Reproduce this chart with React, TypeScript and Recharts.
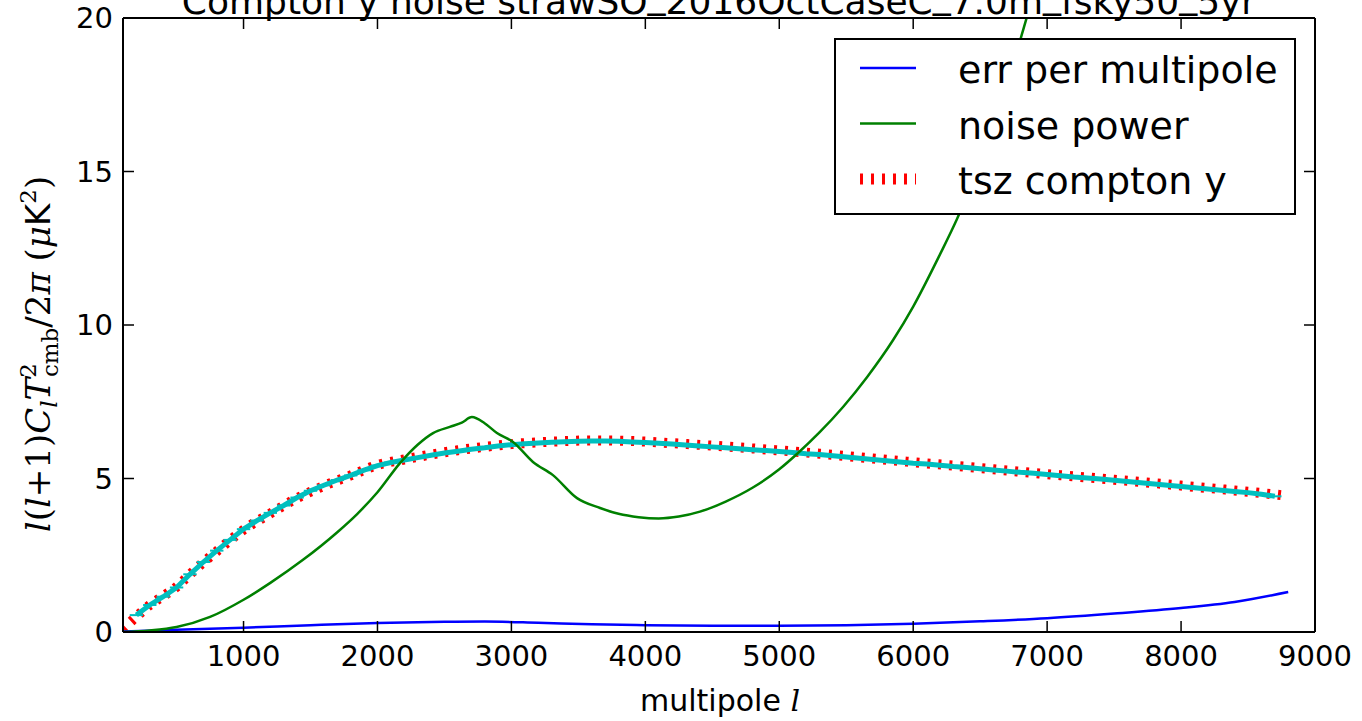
import { ComposedChart, Line, Scatter, ErrorBar, XAxis, YAxis, Legend } from 'recharts'

// err per multipole (blue)
const errL = [100, 500, 1000, 1500, 2000, 2500, 2800, 3200, 3600, 4000, 4500, 5000, 5500, 6000, 6500, 7000, 7500, 8000, 8400, 8800]
const errV = [0.02, 0.07, 0.14, 0.22, 0.29, 0.33, 0.34, 0.3, 0.25, 0.22, 0.2, 0.2, 0.22, 0.27, 0.35, 0.45, 0.6, 0.78, 0.98, 1.3]

// noise power (green)
const noiseL = [100, 300, 500, 750, 1000, 1200, 1444, 1700, 1850, 2000, 2168, 2300, 2415, 2540, 2630, 2705, 2800, 2892, 3012, 3161, 3310, 3490, 3662, 3800, 3950, 4100, 4250, 4408, 4600, 4800, 5000, 5140, 5300, 5476, 5655, 5850, 6000, 6200, 6327, 6500, 6700, 6820, 6900]
const noiseV = [0.0, 0.05, 0.16, 0.49, 1.05, 1.6, 2.35, 3.25, 3.85, 4.55, 5.5, 6.1, 6.48, 6.68, 6.82, 7.0, 6.8, 6.48, 6.19, 5.54, 5.11, 4.36, 4.04, 3.85, 3.74, 3.7, 3.76, 3.92, 4.25, 4.7, 5.3, 5.83, 6.5, 7.33, 8.3, 9.51, 10.6, 12.3, 13.45, 15.3, 17.8, 19.6, 20.8]

// tsz compton y (red dotted)
const tszL = [100, 200, 300, 400, 500, 600, 700, 800, 1000, 1200, 1400, 1600, 1800, 2000, 2200, 2400, 2600, 2800, 3000, 3300, 3600, 3900, 4200, 4500, 4800, 5100, 5400, 5700, 6000, 6300, 6600, 6900, 7200, 7500, 7800, 8100, 8400, 8700, 8800]
const tszV = [0.1, 0.5, 0.88, 1.17, 1.47, 1.88, 2.27, 2.63, 3.33, 3.86, 4.36, 4.76, 5.1, 5.44, 5.62, 5.78, 5.92, 6.03, 6.12, 6.2, 6.24, 6.22, 6.15, 6.07, 5.98, 5.88, 5.77, 5.65, 5.53, 5.42, 5.3, 5.18, 5.07, 4.96, 4.85, 4.73, 4.61, 4.48, 4.43]

// binned measurement (cyan, x error bars)
const binL = [200, 300, 400, 500, 600, 700, 800, 900, 1000, 1100, 1200, 1300, 1400, 1500, 1600, 1700, 1800, 1900, 2000, 2100, 2200, 2300, 2400, 2500, 2600, 2700, 2800, 2900, 3000, 3100, 3200, 3300, 3400, 3500, 3600, 3700, 3800, 3900, 4000, 4100, 4200, 4300, 4400, 4500, 4600, 4700, 4800, 4900, 5000, 5100, 5200, 5300, 5400, 5500, 5600, 5700, 5800, 5900, 6000, 6100, 6200, 6300, 6400, 6500, 6600, 6700, 6800, 6900, 7000, 7100, 7200, 7300, 7400, 7500, 7600, 7700, 7800, 7900, 8000, 8100, 8200, 8300, 8400, 8500, 8600, 8700]
const binV = [0.55, 0.88, 1.15, 1.45, 1.88, 2.28, 2.65, 3.0, 3.35, 3.63, 3.88, 4.12, 4.38, 4.6, 4.78, 4.95, 5.1, 5.27, 5.42, 5.52, 5.6, 5.68, 5.76, 5.83, 5.89, 5.95, 6.0, 6.06, 6.1, 6.13, 6.16, 6.18, 6.2, 6.21, 6.22, 6.22, 6.21, 6.19, 6.17, 6.15, 6.12, 6.09, 6.06, 6.03, 6.0, 5.97, 5.94, 5.91, 5.88, 5.85, 5.81, 5.78, 5.74, 5.7, 5.66, 5.62, 5.58, 5.54, 5.5, 5.47, 5.43, 5.39, 5.36, 5.32, 5.28, 5.24, 5.2, 5.17, 5.13, 5.09, 5.05, 5.02, 4.98, 4.94, 4.9, 4.86, 4.82, 4.78, 4.74, 4.7, 4.66, 4.62, 4.58, 4.54, 4.49, 4.42]
const binHalfWidth = 50

const xTicks = [1000, 2000, 3000, 4000, 5000, 6000, 7000, 8000, 9000]
const yTicks = [0, 5, 10, 15, 20]
const title = 'Compton y noise strawSO_2016OctCaseC_7.0m_fsky50_5yr'

const errData = errL.map((l, i) => ({ l, v: errV[i] }))
const noiseData = noiseL.map((l, i) => ({ l, v: noiseV[i] }))
const tszData = tszL.map((l, i) => ({ l, v: tszV[i] }))
const binData = binL.map((l, i) => ({ l, v: binV[i], xerr: binHalfWidth }))

const SANS = 'DejaVu Sans'
const SERIF = 'DejaVu Serif'
const TICK = 11

const BottomTick = ({ x, y, payload }: any) => (
  <g>
    <line x1={x} y1={y} x2={x} y2={y - TICK} stroke="#000" strokeWidth={1.5} />
    <text x={x} y={y + 34} textAnchor="middle" fontSize={29} fontFamily={SANS} fill="#000">
      {payload.value}
    </text>
  </g>
)
const TopTick = ({ x, y }: any) => <line x1={x} y1={y} x2={x} y2={y + TICK} stroke="#000" strokeWidth={1.5} />
const LeftTick = ({ x, y, payload }: any) => (
  <g>
    <line x1={x} y1={y} x2={x + TICK} y2={y} stroke="#000" strokeWidth={1.5} />
    <text x={x - 10} y={y + 10} textAnchor="end" fontSize={29} fontFamily={SANS} fill="#000">
      {payload.value}
    </text>
  </g>
)
const RightTick = ({ x, y }: any) => <line x1={x} y1={y} x2={x - TICK} y2={y} stroke="#000" strokeWidth={1.5} />

const TitleLabel = () => {
  const parts = title.split('_')
  return (
    <text x={719} y={14} textAnchor="middle" fontSize={36} fontFamily={SANS} fill="#000">
      {parts.map((p, i) => (
        <tspan key={i}>
          {i > 0 && <tspan dy={-6}>_</tspan>}
          <tspan dy={i > 0 ? 6 : 0}>{p}</tspan>
        </tspan>
      ))}
    </text>
  )
}

const XLabel = () => (
  <text x={720} y={711} textAnchor="middle" fontSize={30} fill="#000">
    <tspan fontFamily={SANS}>multipole </tspan>
    <tspan fontFamily={SERIF} fontStyle="italic">l</tspan>
  </text>
)

const YLabel = () => (
  <text transform="rotate(-90)" x={-354} y={50} textAnchor="middle" fontSize={34} fontFamily={SERIF} fill="#000">
    <tspan fontStyle="italic">l</tspan>
    <tspan>(</tspan>
    <tspan fontStyle="italic">l</tspan>
    <tspan>+1)</tspan>
    <tspan fontStyle="italic">C</tspan>
    <tspan fontStyle="italic" fontSize={23} dy={7}>l</tspan>
    <tspan fontStyle="italic" dy={-7}>T</tspan>
    <tspan fontSize={23} dy={-14}>2</tspan>
    <tspan fontSize={23} dx={-14} dy={22}>cmb</tspan>
    <tspan dy={-8}>/2</tspan>
    <tspan fontStyle="italic">π</tspan>
    <tspan> (</tspan>
    <tspan fontStyle="italic">μ</tspan>
    <tspan fontFamily={SANS}>K</tspan>
    <tspan fontSize={23} dy={-14}>2</tspan>
    <tspan dy={14}>)</tspan>
  </text>
)

const legendRows = [
  { name: 'err per multipole', color: '#0000ff', dotted: false },
  { name: 'noise power', color: '#008000', dotted: false },
  { name: 'tsz compton y', color: '#ff0000', dotted: true },
]

const LegendBox = () => (
  <svg width={462} height={177} style={{ display: 'block' }}>
    <rect x={1} y={1} width={460} height={175} fill="#fff" stroke="#000" strokeWidth={2} />
    {legendRows.map((r, i) => {
      const cy = 30 + i * 55.5
      return (
        <g key={r.name}>
          <line
            x1={26}
            x2={82}
            y1={cy}
            y2={cy}
            stroke={r.color}
            strokeWidth={r.dotted ? 11 : 2.5}
            strokeDasharray={r.dotted ? '3 8' : undefined}
          />
          <text x={124} y={cy + 15} fontSize={38} fontFamily={SANS} fill="#000">
            {r.name}
          </text>
        </g>
      )
    })}
  </svg>
)

export default function App() {
  return (
    <div style={{ position: 'absolute', left: 0, top: 0, width: 1362, height: 721, background: '#fff' }}>
      <ComposedChart width={1362} height={721} margin={{ top: 0, right: 0, bottom: 0, left: 0 }}>
        <XAxis
          dataKey="l"
          type="number"
          domain={[100, 9000]}
          ticks={xTicks}
          interval={0}
          allowDataOverflow
          height={89}
          tickSize={0}
          tickMargin={0}
          tick={<BottomTick />}
          axisLine={{ stroke: '#000', strokeWidth: 2 }}
          label={{ content: <XLabel /> }}
        />
        <XAxis
          xAxisId="top"
          orientation="top"
          dataKey="l"
          type="number"
          domain={[100, 9000]}
          ticks={xTicks}
          interval={0}
          allowDataOverflow
          height={18}
          tickSize={0}
          tickMargin={0}
          tick={<TopTick />}
          axisLine={{ stroke: '#000', strokeWidth: 2 }}
          label={{ content: <TitleLabel /> }}
        />
        <YAxis
          type="number"
          domain={[0, 20]}
          ticks={yTicks}
          interval={0}
          allowDataOverflow
          width={123}
          tickSize={0}
          tickMargin={0}
          tick={<LeftTick />}
          axisLine={{ stroke: '#000', strokeWidth: 2 }}
          label={{ content: <YLabel /> }}
        />
        <YAxis
          yAxisId="right"
          orientation="right"
          type="number"
          domain={[0, 20]}
          ticks={yTicks}
          interval={0}
          allowDataOverflow
          width={47}
          tickSize={0}
          tickMargin={0}
          tick={<RightTick />}
          axisLine={{ stroke: '#000', strokeWidth: 2 }}
        />
        <Legend
          layout="vertical"
          align="center"
          verticalAlign="middle"
          content={<LegendBox />}
          wrapperStyle={{ left: 834, top: 38, width: 462, height: 177 }}
        />
        <Line
          data={tszData}
          dataKey="v"
          type="monotone"
          stroke="#ff0000"
          strokeWidth={10}
          strokeDasharray="3 8"
          dot={false}
          isAnimationActive={false}
        />
        <Line
          data={binData}
          dataKey="v"
          type="linear"
          stroke="#00bfbf"
          strokeWidth={5}
          dot={false}
          isAnimationActive={false}
        />
        <Scatter data={binData} dataKey="v" shape={() => <g />} isAnimationActive={false}>
          <ErrorBar dataKey="xerr" direction="x" width={0} stroke="#00bfbf" strokeWidth={2} isAnimationActive={false} />
        </Scatter>
        <Line
          data={errData}
          dataKey="v"
          type="monotone"
          stroke="#0000ff"
          strokeWidth={2.5}
          dot={false}
          isAnimationActive={false}
        />
        <Line
          data={noiseData}
          dataKey="v"
          type="monotone"
          stroke="#008000"
          strokeWidth={2.5}
          dot={false}
          isAnimationActive={false}
        />
      </ComposedChart>
    </div>
  )
}
